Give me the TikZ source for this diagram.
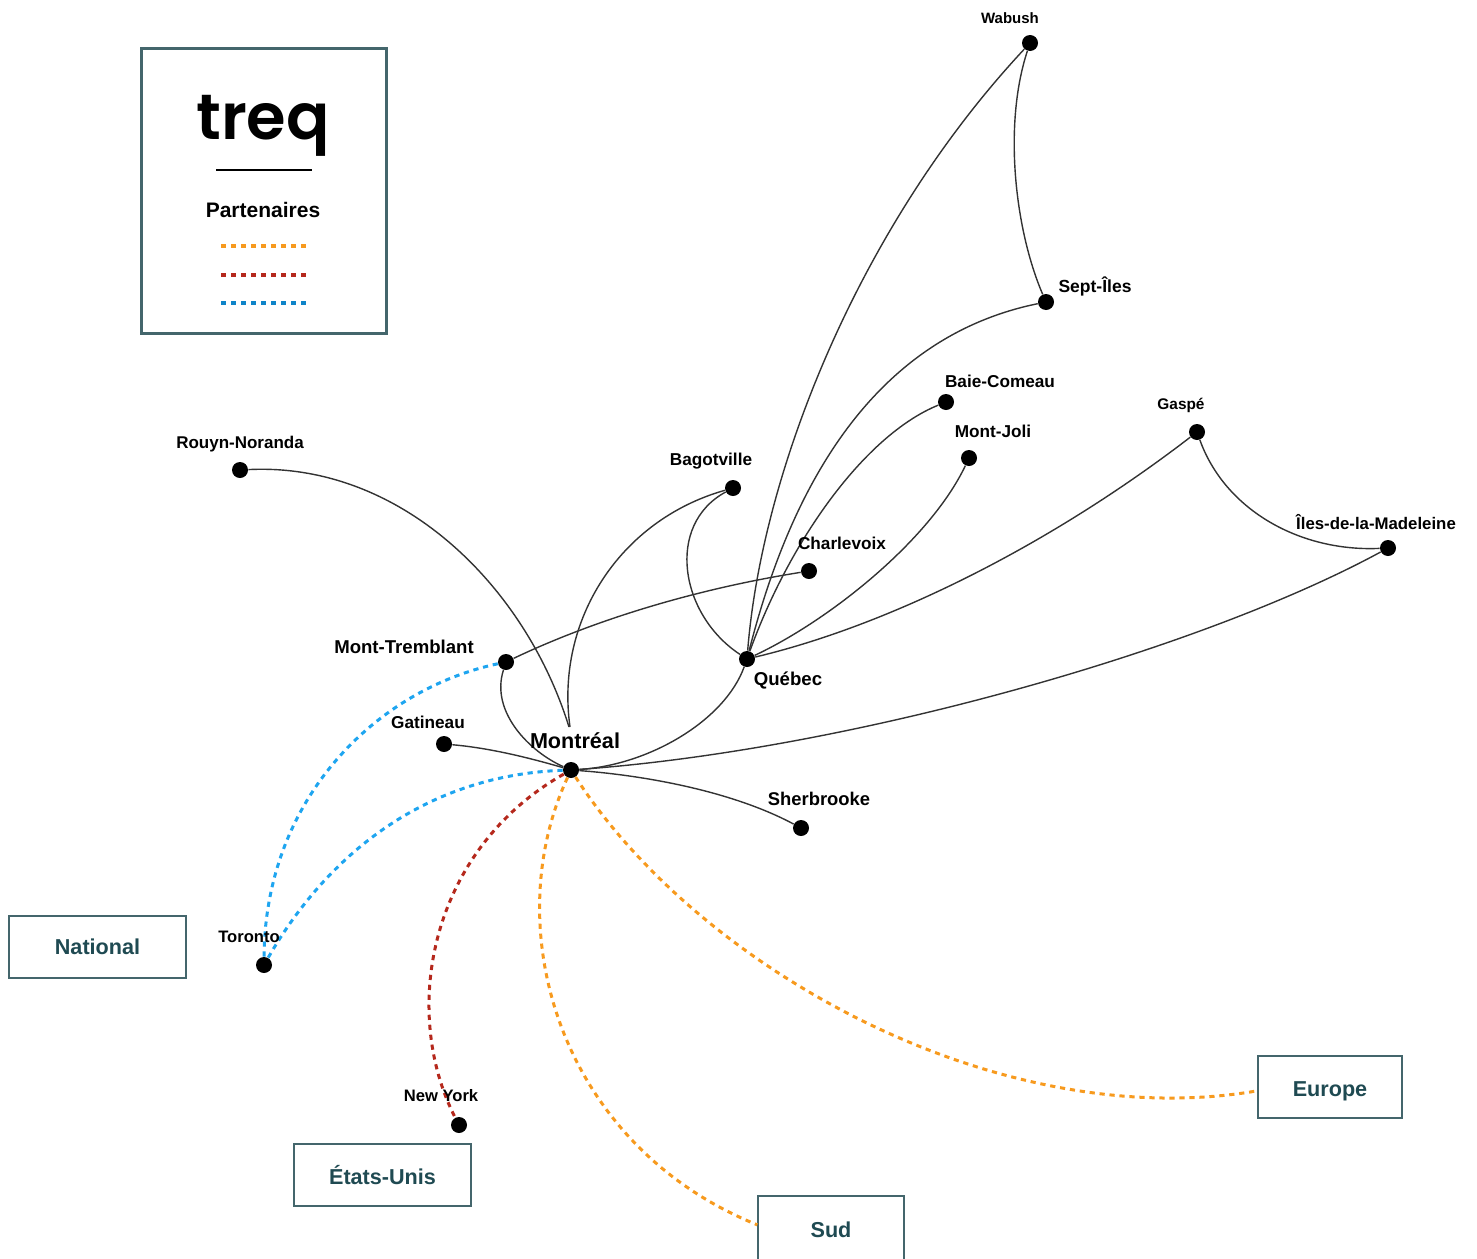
\documentclass[tikz,border=0pt]{standalone}
\usepackage{fontspec}
\setmainfont{Liberation Sans}
\definecolor{boxteal}{HTML}{44666C}
\definecolor{boxtext}{HTML}{1F4A52}
\definecolor{sudorange}{HTML}{F79A1E}
\definecolor{usred}{HTML}{B5281C}
\definecolor{natblue}{HTML}{1EA5F0}
\definecolor{legblue}{HTML}{0E84C8}
\begin{document}
\begin{tikzpicture}[x=0.5pt,y=-0.5pt,
  citynode/.style={circle, fill=black, inner sep=0pt, minimum size=8pt},
  citylabel/.style={inner sep=0pt},
  zonenode/.style={draw=boxteal, line width=0.7pt, inner sep=0pt, text=boxtext, font=\bfseries\fontsize{10.8}{12}\selectfont},
  route/.style={draw=black!80, line width=0.7pt},
  partner/.style={line width=1.5pt, dash pattern=on 2.6pt off 2.4pt}]
   \useasboundingbox (0,0) rectangle (1477,1258);
   % villes
   \foreach \n/\x/\y in {wabush/1030/43, septiles/1046/302, baie/946/402, joli/969/458, gaspe/1197/432,
        iles/1388/548, bagot/733/488, charle/809/571, rouyn/240/470, tremblant/506/662, quebec/747/659,
        gatineau/444/744, montreal/571/770, sherb/801/828, toronto/264/965, newyork/459/1125}
       \node[citynode] at (\x,\y) (\n) {};
   % boites
   \node[zonenode, minimum width=88.5pt, minimum height=31pt] at (97.5,947) (national) {National};
   \node[zonenode, minimum width=88.5pt, minimum height=31pt] at (382.5,1175) (usa) {États-Unis};
   \node[zonenode, minimum width=72pt, minimum height=31pt] at (1330,1087) (europe) {\raisebox{-4.5pt}[0pt][0pt]{Europe}};
   \node[zonenode, minimum width=73pt, minimum height=34pt] at (831,1230) (sud) {Sud};
   \coordinate (rouynend) at (569,727);
   \coordinate (bagotend) at (570,727);
   % liaisons
   \draw[route] (wabush) .. controls (860,225) and (762,470) .. (quebec);
   \draw[route] (wabush) .. controls (1003,125) and (1015,230) .. (septiles);
   \draw[route] (septiles) .. controls (860,340) and (785,510) .. (quebec);
   \draw[route] (baie) .. controls (865,435) and (790,540) .. (quebec);
   \draw[route] (joli) .. controls (930,540) and (830,620) .. (quebec);
   \draw[route] (gaspe) .. controls (1050,545) and (890,625) .. (quebec);
   \draw[route] (gaspe) .. controls (1225,510) and (1300,552) .. (iles);
   \draw[route] (iles) .. controls (1200,650) and (850,750) .. (montreal);
   \draw[route] (bagot) .. controls (665,525) and (680,615) .. (quebec);
   \draw[route] (bagot) .. controls (620,520) and (555,620) .. (bagotend);
   \draw[route] (rouyn) .. controls (400,462) and (525,585) .. (rouynend);
   \draw[route] (charle) .. controls (690,590) and (590,622) .. (tremblant);
   \draw[route] (tremblant) .. controls (490,712) and (530,752) .. (montreal);
   \draw[route] (gatineau) .. controls (490,748) and (530,758) .. (montreal);
   \draw[route] (quebec) .. controls (725,720) and (650,765) .. (montreal);
   \draw[route] (sherb) .. controls (730,790) and (640,775) .. (montreal);
   % partenaires
   \draw[partner, natblue] (tremblant) .. controls (375,690) and (265,800) .. (toronto);
   \draw[partner, natblue] (montreal) .. controls (430,775) and (330,850) .. (toronto);
   \draw[partner, usred] (montreal) .. controls (430,850) and (400,1010) .. (newyork);
   \draw[partner, sudorange] (montreal) .. controls (497,930) and (560,1145) .. (sud.176);
   \draw[partner, sudorange] (montreal) .. controls (700,970) and (1000,1135) .. (europe.183);
   % noms
   \foreach \t/\x/\y/\s in {Wabush/1010/18/7.5, Sept-Îles/1095/286/8.75, Baie-Comeau/1000/381/8.6, Mont-Joli/993/431/8.6,
        Gaspé/1181/405/7.7, Îles-de-la-Madeleine/1376/522/8.4, Bagotville/711/461/8.6, Charlevoix/842/543/8.6,
        Rouyn-Noranda/240/444/8.5, Mont-Tremblant/404/647/9.3, Québec/788/680/9.3, Gatineau/428/722/8.6,
        Sherbrooke/819/799/9.2, Toronto/249/937/8.3, New York/441/1096/8.3}
       \node[citylabel, font=\bfseries\fontsize{\s}{10}\selectfont] at (\x,\y) {\t};
   \node[citylabel, font=\bfseries\fontsize{10.8}{12}\selectfont] at (575,741) (montreallabel) {Montréal};
   % legende
   \node[draw=boxteal, line width=1.5pt, minimum width=122.5pt, minimum height=142.5pt, inner sep=0pt] at (263.5,190.5) (legend) {};
   \node[inner sep=0pt, font=\fontspec{Poppins SemiBold}\fontsize{32}{36}\selectfont] at (263,126) (logo) {treq};
   \coordinate (rulea) at (216,170);
   \coordinate (ruleb) at (312,170);
   \draw[line width=1.2pt] (rulea) -- (ruleb);
   \node[inner sep=0pt, font=\bfseries\fontsize{10.5}{12}\selectfont] at (263,210) (partnertitle) {Partenaires};
   \foreach \c/\y [count=\ni] in {sudorange/246, usred/275, legblue/303} {
       \coordinate (la\ni) at (221,\y);
       \coordinate (lb\ni) at (307,\y);
       \draw[\c, line width=1.6pt, dash pattern=on 2.5pt off 2.5pt] (la\ni) -- (lb\ni);
   }
\end{tikzpicture}
\end{document}
